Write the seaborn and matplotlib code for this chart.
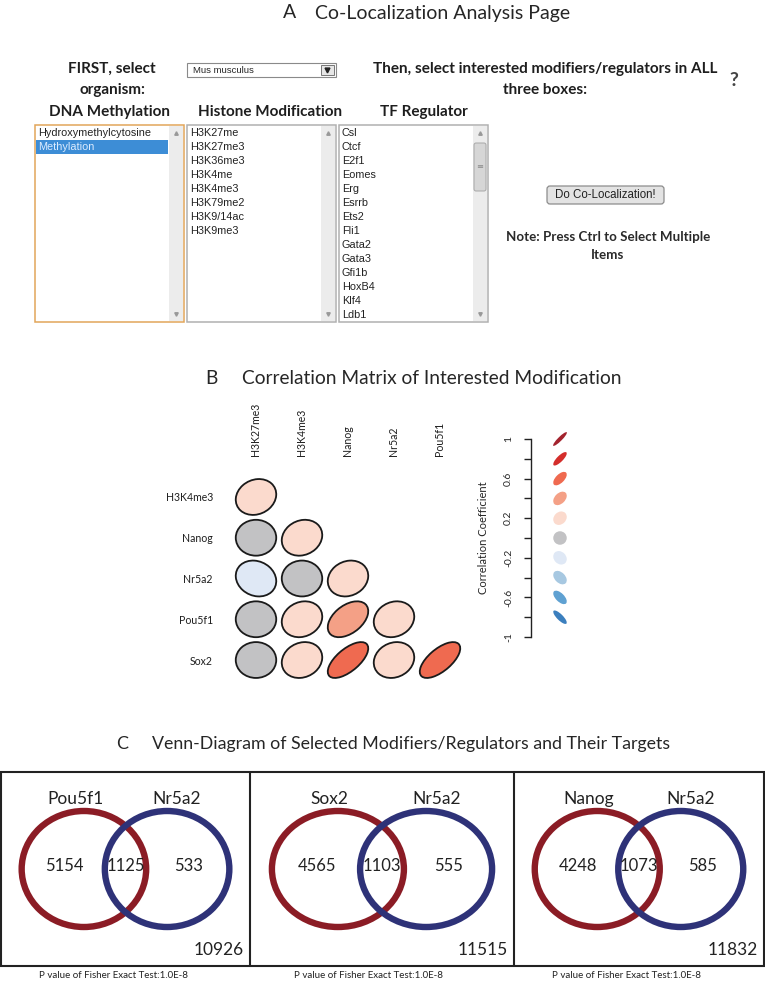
import numpy as np
import seaborn as sns
import matplotlib.pyplot as plt
from matplotlib.patches import Rectangle, Ellipse, FancyBboxPatch
from matplotlib import transforms

sns.set_theme(style="white")
plt.rcParams['font.family'] = ['Lato', 'DejaVu Sans']

# ---- panel A: the web form
organism = "Mus musculus"
dna_items = ["Hydroxymethylcytosine", "Methylation"]
dna_selected = "Methylation"
histone_items = ["H3K27me", "H3K27me3", "H3K36me3", "H3K4me", "H3K4me3",
                 "H3K79me2", "H3K9/14ac", "H3K9me3"]
tf_items = ["Csl", "Ctcf", "E2f1", "Eomes", "Erg", "Esrrb", "Ets2", "Fli1",
            "Gata2", "Gata3", "Gfi1b", "HoxB4", "Klf4", "Ldb1"]

# ---- panel B: correlation matrix (lower triangle)
corr_cols = ["H3K27me3", "H3K4me3", "Nanog", "Nr5a2", "Pou5f1"]
corr_rows = ["H3K4me3", "Nanog", "Nr5a2", "Pou5f1", "Sox2"]
nan = np.nan
corr_values = [
    [0.15, nan, nan, nan, nan],
    [0.0, 0.15, nan, nan, nan],
    [-0.15, 0.0, 0.15, nan, nan],
    [0.0, 0.15, 0.45, 0.15, nan],
    [0.0, 0.15, 0.65, 0.15, 0.65],
]
legend_values = [1.0, 0.8, 0.6, 0.4, 0.2, 0.0, -0.2, -0.4, -0.6, -0.8, -1.0]
legend_labels = [1, 0.6, 0.2, -0.2, -0.6, -1]

# ---- panel C: venn diagrams
venn_left = ["Pou5f1", "Sox2", "Nanog"]
venn_right = ["Nr5a2", "Nr5a2", "Nr5a2"]
left_only = [5154, 4565, 4248]
shared = [1125, 1103, 1073]
right_only = [533, 555, 585]
totals = [10926, 11515, 11832]
p_values = ["1.0E-8", "1.0E-8", "1.0E-8"]

# colours from -1 (index 0) to 1 (index 10)
corr_palette = sns.color_palette(["#1f57a0", "#3b7fbe", "#5fa1d2", "#a7c8e1", "#dfe8f5", "#c2c2c4",
                                  "#fbdacd", "#f4a086", "#ef6a50", "#d42e2b", "#a3232e"])


def corr_color(r):
    return corr_palette[int(round((r + 1) / 0.2))]


fig = plt.figure(figsize=(7.65, 9.81), dpi=100)
bg = fig.add_axes([0, 0, 1, 1])
bg.set_xlim(0, 765)
bg.set_ylim(981, 0)
bg.axis('off')

# ================= A =================
bg.text(290, 13, "A", ha='center', va='center', fontsize=14)
bg.text(315, 13, "Co-Localization Analysis Page", ha='left', va='center', fontsize=14)

head = dict(ha='center', va='center', fontsize=11, fontweight='bold', color='#1e1e1e')
bg.text(112, 69, "FIRST, select", **head)
bg.text(112, 90, "organism:", **head)
bg.text(545, 69, "Then, select interested modifiers/regulators in ALL", **head)
bg.text(545, 90, "three boxes:", **head)
bg.text(734, 80, "?", ha='center', va='center', fontsize=14, fontweight='bold', color='#444444')
bg.text(110, 112, "DNA Methylation", **head)
bg.text(270, 112, "Histone Modification", **head)
bg.text(424, 112, "TF Regulator", **head)

# organism dropdown
bg.add_patch(Rectangle((187, 63), 149, 14, fc='white', ec='#8a8a8a', lw=0.8))
bg.text(193, 70.5, organism, ha='left', va='center', fontsize=6.8, family='Liberation Sans')
bg.add_patch(Rectangle((321, 65), 13, 10, fc='#e6e6e6', ec='#777777', lw=0.7))
bg.plot(327.5, 70, marker='v', ms=3.5, color='#222222')


def listbox(x0, x1, items, edge, selected=None, thumb=None):
    y0, y1 = 125, 322
    bg.add_patch(Rectangle((x0, y0), x1 - x0, y1 - y0, fc='white', ec=edge, lw=1.1, zorder=1))
    bg.add_patch(Rectangle((x1 - 15, y0 + 1), 14, y1 - y0 - 2, fc='#ececec', ec='none', zorder=2))
    bg.plot(x1 - 8, y0 + 8, marker='^', ms=2.5, color='#999999', zorder=3)
    bg.plot(x1 - 8, y1 - 8, marker='v', ms=2.5, color='#999999', zorder=3)
    if thumb is not None:
        bg.add_patch(FancyBboxPatch((x1 - 14, thumb[0]), 12, thumb[1] - thumb[0],
                                    boxstyle='round,pad=0,rounding_size=2',
                                    fc='#d6d6d6', ec='#a8a8a8', lw=0.7, zorder=3))
        bg.text(x1 - 8, (thumb[0] + thumb[1]) / 2, "≡", ha='center', va='center',
                fontsize=6, color='#888888', family='DejaVu Sans', zorder=4)
    for i, name in enumerate(items):
        y = 133 + 14 * i
        col = '#222222'
        if name == selected:
            bg.add_patch(Rectangle((x0 + 1, y - 7), x1 - x0 - 17, 14, fc='#3d8dd6', ec='none', zorder=2))
            col = '#dcecff'
        bg.text(x0 + 3, y, name, ha='left', va='center', fontsize=7.8,
                family='Liberation Sans', color=col, zorder=4)


listbox(35, 184, dna_items, '#e2a55a', selected=dna_selected)
listbox(187, 336, histone_items, '#b0b0b0')
listbox(339, 488, tf_items, '#b0b0b0', thumb=(143, 191))

bg.add_patch(FancyBboxPatch((547, 186), 117, 18, boxstyle='round,pad=0,rounding_size=3',
                            fc='#e3e3e3', ec='#8c8c8c', lw=0.9))
bg.text(605.5, 195.5, "Do Co-Localization!", ha='center', va='center', fontsize=8.3,
        family='Liberation Sans', color='#222222')
note = dict(ha='center', va='center', fontsize=9.6, fontweight='bold', color='#2a2a2a')
bg.text(608, 237, "Note: Press Ctrl to Select Multiple", **note)
bg.text(608, 255, "Items", **note)

# ================= B =================
bg.text(211, 379, "B", ha='center', va='center', fontsize=13.8)
bg.text(242, 379, "Correlation Matrix of Interested Modification", ha='left', va='center', fontsize=13.8)

ax = fig.add_axes([233 / 765, 1 - 680.4 / 981, 230 / 765, 203.8 / 981])
ax.set_facecolor('none')
ax.set_xlim(-0.5, len(corr_cols) - 0.5)
ax.set_ylim(len(corr_rows) - 0.5, -0.5)
D = 0.88
for i, row in enumerate(corr_values):
    for j, r in enumerate(row):
        if np.isnan(r):
            continue
        ax.add_patch(Ellipse((j, i), D * np.sqrt(1 + r), D * np.sqrt(1 - r), angle=-45,
                             fc=corr_color(r), ec='#1a1a1a', lw=1.3))
ax.set_xticks(range(len(corr_cols)))
ax.set_xticklabels(corr_cols, rotation=90)
ax.xaxis.tick_top()
ax.set_yticks(range(len(corr_rows)))
ax.set_yticklabels(corr_rows)
ax.tick_params(axis='x', length=0, pad=14.5, labelsize=7.6, labelcolor='#1e1e1e')
ax.tick_params(axis='y', length=0, pad=14.5, labelsize=7.6, labelcolor='#1e1e1e')
sns.despine(ax=ax, left=True, bottom=True, top=True, right=True)
ax.grid(False)

# colour legend
leg = fig.add_axes([531 / 765, 1 - 637 / 981, 40 / 765, 198 / 981])
leg.set_facecolor('none')
leg.set_xlim(0, 40)
leg.set_ylim(-1, 1)
yt = np.round(np.linspace(-1, 1, 11), 1)
leg.set_yticks(yt)
leg.set_yticklabels([(f"{v:g}" if v in legend_labels else "") for v in yt],
                    rotation=90, va='center')
leg.tick_params(axis='y', left=True, length=5, width=1, pad=8, labelsize=7.5, color='#222222')
leg.set_xticks([])
sns.despine(ax=leg, bottom=True, top=True, right=True)
leg.spines['left'].set_color('#222222')
leg.spines['left'].set_linewidth(1)
leg.set_ylabel("Correlation Coefficient", fontsize=8)
leg.yaxis.set_label_coords(-1.05, 0.5)
Dl = 0.135
for v in legend_values:
    tr = fig.dpi_scale_trans + transforms.ScaledTranslation(29, v, leg.transData)
    e = Ellipse((0, 0), Dl * np.sqrt(1 + v), max(Dl * np.sqrt(max(1 - v, 0)), 0.04),
                angle=45, fc=corr_color(v), ec='none', transform=tr, clip_on=False)
    leg.add_patch(e)

# ================= C =================
bg.text(122, 744, "C", ha='center', va='center', fontsize=13)
bg.text(152, 744, "Venn-Diagram of Selected Modifiers/Regulators and Their Targets",
        ha='left', va='center', fontsize=12.8)

edges = [1, 250, 514, 764]
top, bot = 772, 966
bg.add_patch(Rectangle((edges[0], top), edges[-1] - edges[0], bot - top, fill=False, ec='#222222', lw=1.5))
for xe in edges[1:-1]:
    bg.plot([xe, xe], [top, bot], color='#222222', lw=1.5)

red, blue = '#8b1c25', '#2e3278'
for k in range(3):
    left = edges[k]
    w = edges[k + 1] - edges[k]
    bg.add_patch(Ellipse((left + 0.333 * w, 869), 0.5 * w, 116, fill=False, ec=red, lw=4.6))
    bg.add_patch(Ellipse((left + 0.667 * w, 869), 0.5 * w, 116, fill=False, ec=blue, lw=4.6))
    bg.text(left + 0.3 * w, 799, venn_left[k], ha='center', va='center', fontsize=12.5, color='#222222')
    bg.text(left + 0.707 * w, 799, venn_right[k], ha='center', va='center', fontsize=12.5, color='#222222')
    bg.text(left + 0.255 * w, 866, str(left_only[k]), ha='center', va='center', fontsize=12, color='#222222')
    bg.text(left + 0.5 * w, 866, str(shared[k]), ha='center', va='center', fontsize=12, color='#222222')
    bg.text(left + 0.753 * w, 866, str(right_only[k]), ha='center', va='center', fontsize=12, color='#222222')
    bg.text(edges[k + 1] - 6, 950, str(totals[k]), ha='right', va='center', fontsize=12.5, color='#222222')
    bg.text(left + 0.45 * w, 976, "P value of Fisher Exact Test:" + p_values[k],
            ha='center', va='center', fontsize=7, color='#222222')

fig.savefig('out.png', dpi=100)
